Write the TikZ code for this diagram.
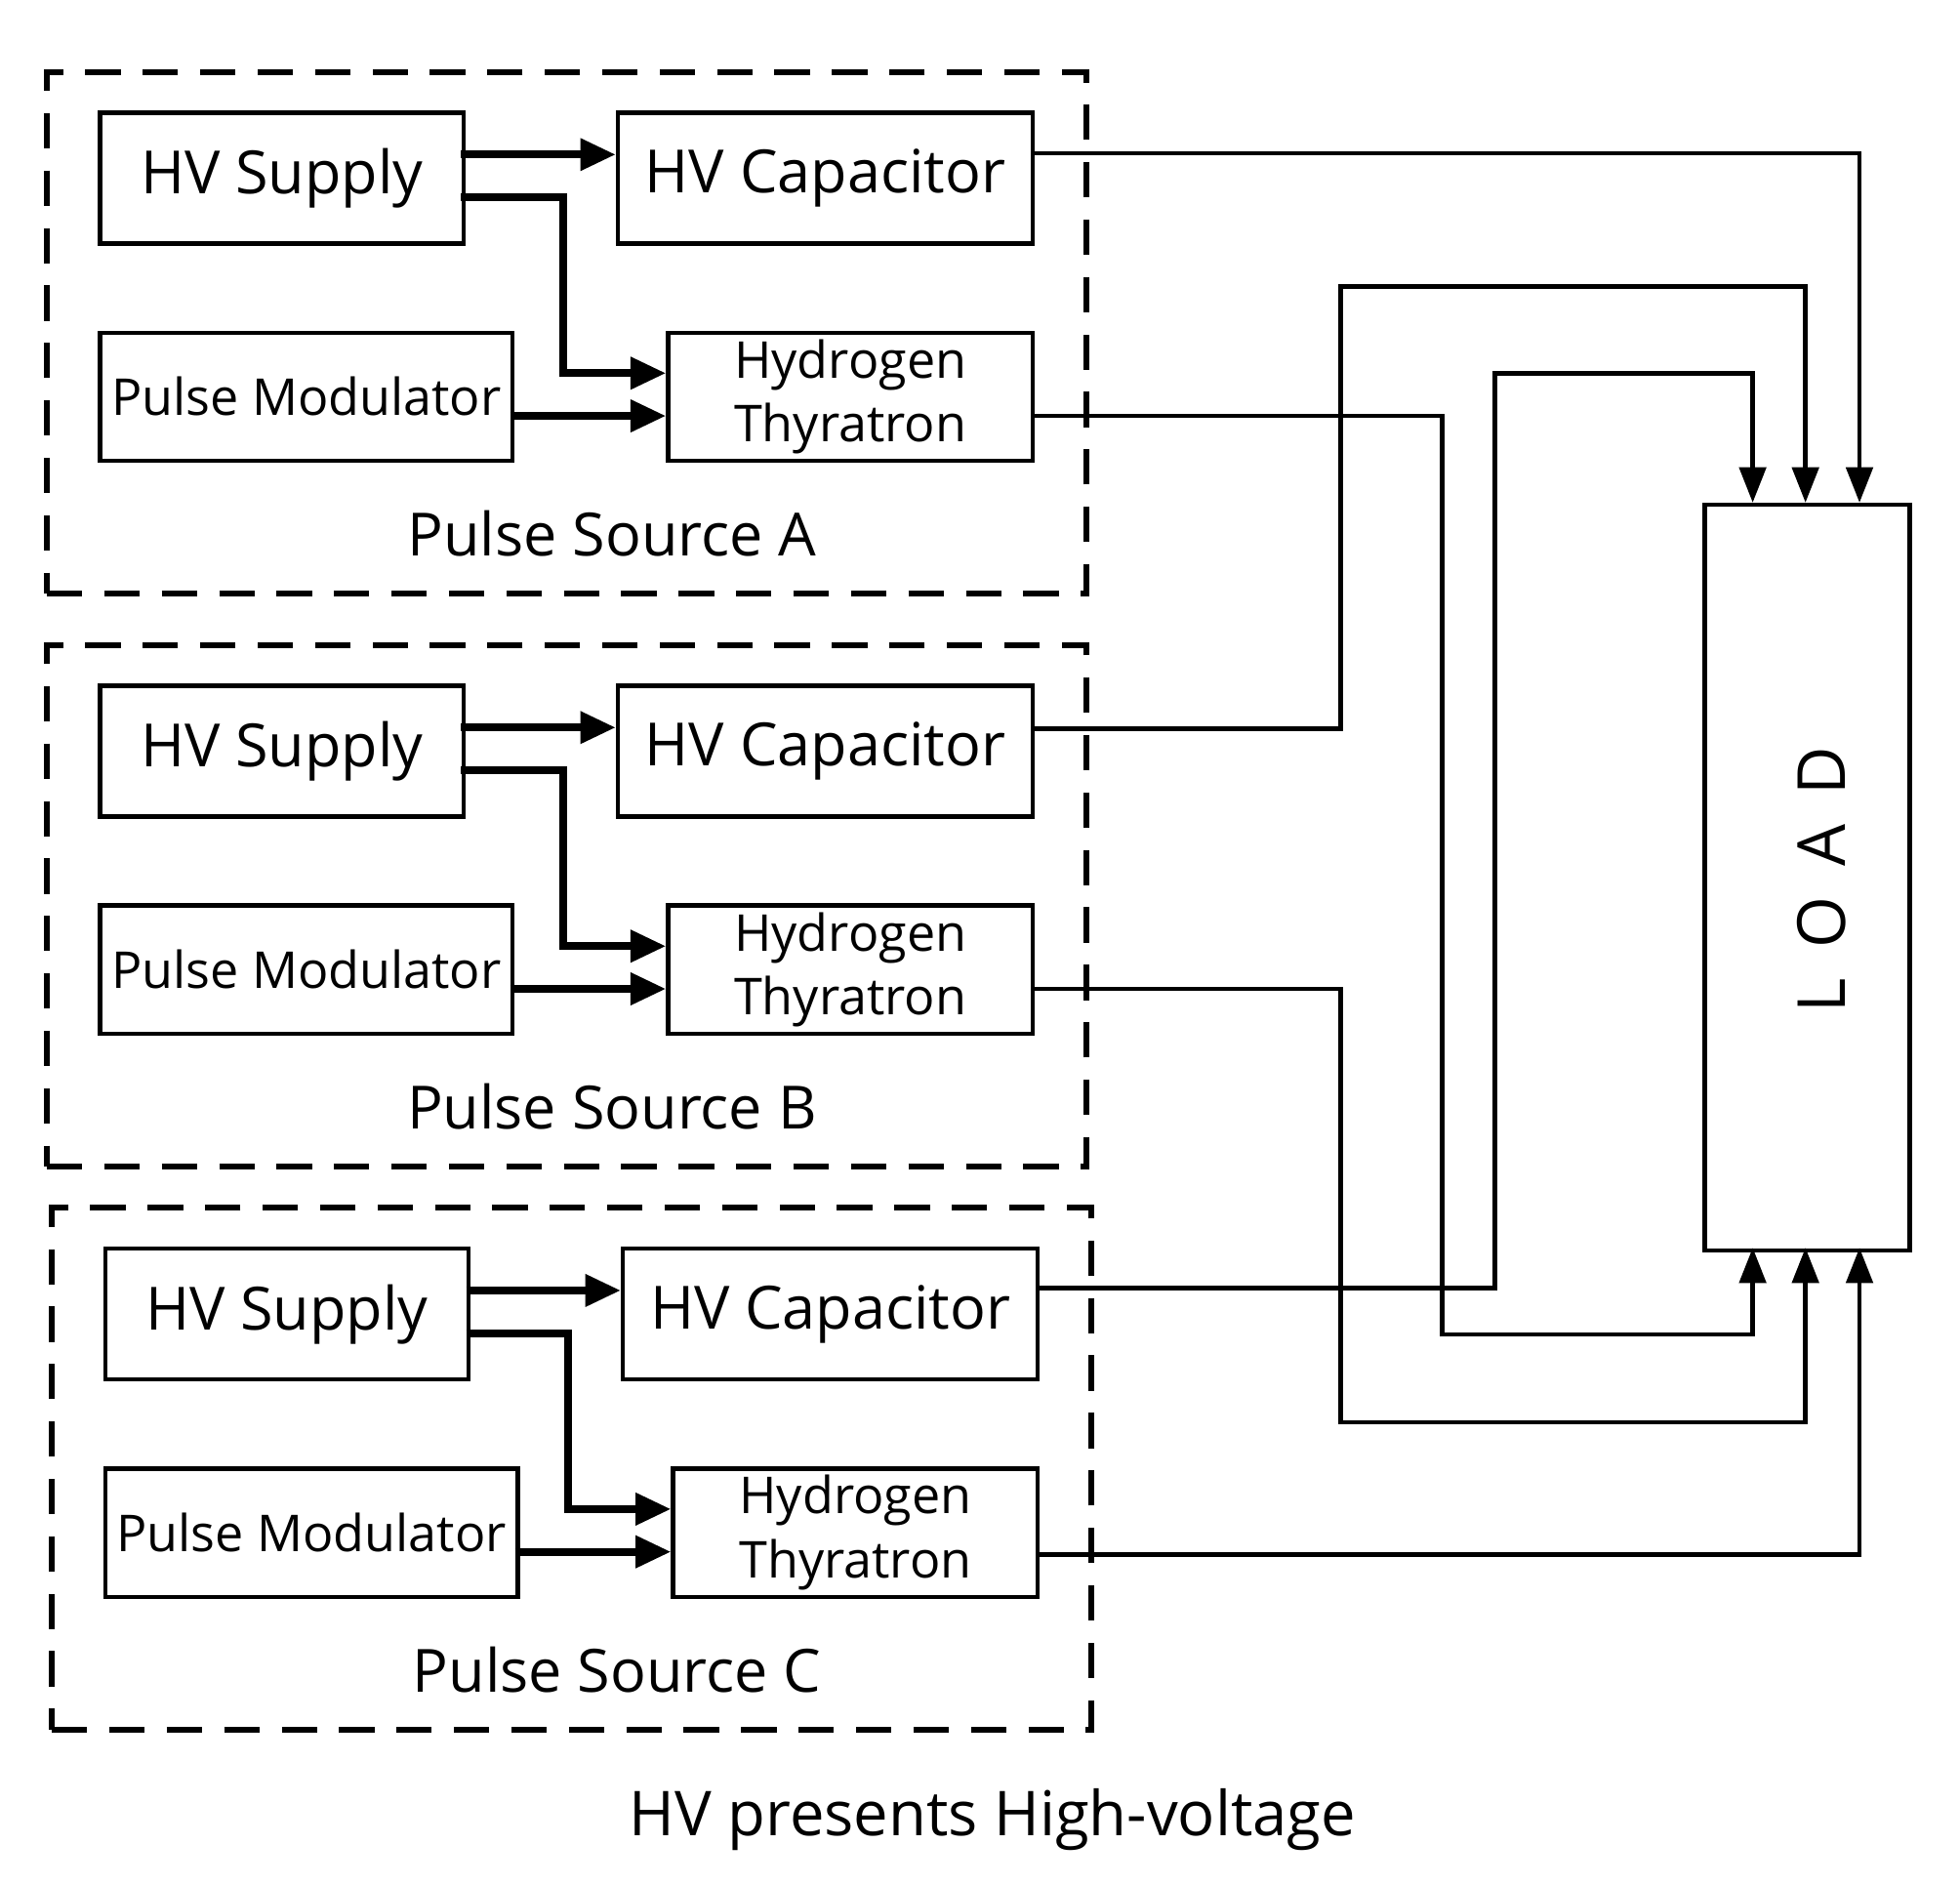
\documentclass[tikz,border=0pt]{standalone}
\usepackage{fontspec}
\setmainfont{Open Sans}
\usetikzlibrary{arrows.meta}
\begin{document}
\begin{tikzpicture}[x=0.01cm,y=-0.01cm,
  box/.style={draw,line width=1pt,inner sep=0pt},
  grp/.style={draw,line width=1.3pt,dash pattern=on 8pt off 5pt},
  inar/.style={line width=1.7pt,-{Triangle[length=8pt,width=7pt]}},
  conn/.style={line width=1pt,-{Triangle[length=8pt,width=6pt]}},
  big/.style={font=\fontsize{13.5}{16}\selectfont},
  small/.style={font=\fontsize{11.5}{14.5}\selectfont,align=center}]
\useasboundingbox (0,0) rectangle (1560,1500);
\foreach \g/\dx/\dy in {A/0/0,B/0/456,C/4/904}{
  \begin{scope}[shift={(\dx*0.01cm,-\dy*0.01cm)}]
  \node[grp,minimum width=8.27cm,minimum height=4.15cm,anchor=north west] (g\g) at (35,55) {};
  \node[box,big,minimum width=2.89cm,minimum height=1.04cm,anchor=north west] (s\g) at (78,88) {HV Supply};
  \node[box,big,minimum width=3.30cm,minimum height=1.04cm,anchor=north west] (c\g) at (490,88) {HV Capacitor};
  \node[box,small,minimum width=3.28cm,minimum height=1.02cm,anchor=north west] (m\g) at (78,263) {Pulse Modulator};
  \node[box,small,minimum width=2.90cm,minimum height=1.02cm,anchor=north west] (t\g) at (530,263) {Hydrogen\\Thyratron};
  \node[font=\fontsize{13.5}{16}\selectfont] (l\g) at (487,425) {Pulse Source \g};
  \coordinate (a\g) at (367,123); \coordinate (b\g) at (490,123);
  \coordinate (p\g) at (367,157); \coordinate (q\g) at (530,297);
  \coordinate (u\g) at (406,331); \coordinate (v\g) at (530,331);
  \draw[inar] (a\g) -- (b\g);
  \draw[inar] (p\g) -| (448,297) -- (q\g);
  \draw[inar] (u\g) -- (v\g);
  \end{scope}
}
\node[box,minimum width=1.63cm,minimum height=5.93cm,anchor=north west] (L) at (1355,400) {};
\node[rotate=90,font=\fontsize{15}{18}\selectfont] (lt) at (1450,700) {L\hspace{0.45em}O\hspace{0.45em}A\hspace{0.45em}D};
\coordinate (L1) at (1395,400); \coordinate (L2) at (1437,400); \coordinate (L3) at (1480,400);
\coordinate (B1) at (1395,993); \coordinate (B2) at (1437,993); \coordinate (B3) at (1480,993);
\draw[conn] (cA.east|-0,122) -| (L3);
\draw[conn] (cB.east|-0,580) -- (1067,580) |- (1437,228) -- (L2);
\draw[conn] (cC.east|-0,1025) -- (1190,1025) |- (1395,297) -- (L1);
\draw[conn] (tA.east|-0,331) -- (1148,331) |- (1395,1062) -- (B1);
\draw[conn] (tB.east|-0,787) -- (1067,787) |- (1437,1132) -- (B2);
\draw[conn] (tC.east|-0,1237) -| (B3);
\node[font=\fontsize{14}{17}\selectfont] (cap) at (790,1448) {HV presents High-voltage};
\end{tikzpicture}
\end{document}
